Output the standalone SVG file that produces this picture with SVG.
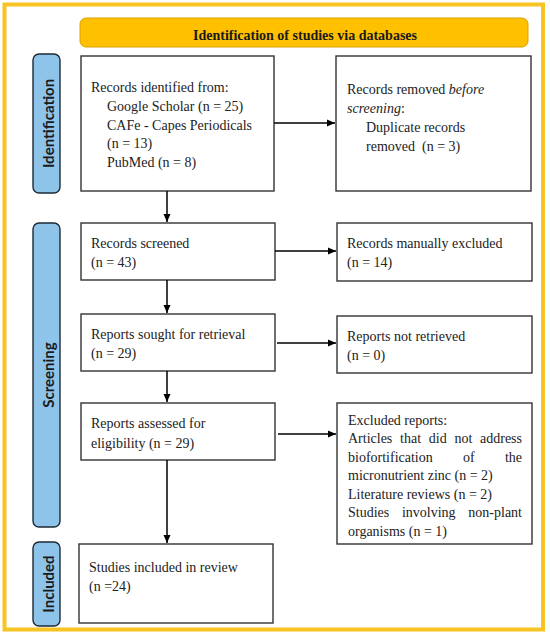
<svg xmlns="http://www.w3.org/2000/svg" width="550" height="634" viewBox="0 0 550 634">
<style>
.box{fill:#fff;stroke:#333;stroke-width:1.4}
.lab{fill:#8ec3ea;stroke:#1e2a36;stroke-width:1.4}
.t{font-family:"Liberation Serif","Times New Roman",serif;font-size:14px;fill:#222}
.side{font-family:Lato,"Liberation Sans",sans-serif;font-weight:bold;font-size:15px;fill:#1a1a1a;text-anchor:middle}
.hd{font-family:"Liberation Serif","Times New Roman",serif;font-size:14px;font-weight:bold;fill:#1a1a1a;text-anchor:middle}
.c{stroke:#000;stroke-width:1.5;fill:none;marker-end:url(#ah)}
</style>
<defs>
<marker id="ah" viewBox="0 0 8 8" refX="8" refY="4" markerWidth="8" markerHeight="8" markerUnits="userSpaceOnUse" orient="auto">
<path d="M0,0.5 L8,4 L0,7.5 Z" fill="#000"/>
</marker>
</defs>
<rect x="4.5" y="4.5" width="538.5" height="625" fill="#fff" stroke="#f7c423" stroke-width="4"/>
<g id="header">
<rect x="80" y="18" width="448" height="29" rx="6" fill="#ffc000" stroke="#d9a200" stroke-width="1"/>
<text class="hd" x="305" y="40">Identification of studies via databases</text>
</g>
<g id="label-identification">
<rect class="lab" x="33" y="54" width="27" height="139" rx="6"/>
<text class="side" transform="translate(53.5,123.5) rotate(-90)">Identification</text>
</g>
<g id="label-screening">
<rect class="lab" x="33" y="223" width="27" height="304" rx="6"/>
<text class="side" transform="translate(53.5,375) rotate(-90)">Screening</text>
</g>
<g id="label-included">
<rect class="lab" x="33" y="542" width="27" height="84" rx="6"/>
<text class="side" transform="translate(53.5,584) rotate(-90)">Included</text>
</g>
<g id="records-identified">
<rect class="box" x="81" y="56" width="193" height="135"/>
<text class="t" x="91" y="92">Records identified from:</text>
<text class="t" x="107" y="111">Google Scholar (n = 25)</text>
<text class="t" x="107" y="129.5">CAFe - Capes Periodicals</text>
<text class="t" x="107" y="148">(n = 13)</text>
<text class="t" x="107" y="167">PubMed (n = 8)</text>
</g>
<g id="records-removed">
<rect class="box" x="336" y="56" width="195" height="135"/>
<text class="t" x="347" y="94">Records removed <tspan font-style="italic">before</tspan></text>
<text class="t" x="347" y="113"><tspan font-style="italic">screening</tspan>:</text>
<text class="t" x="366" y="131.5">Duplicate records</text>
<text class="t" x="366" y="150.5" xml:space="preserve">removed  (n = 3)</text>
</g>
<g id="records-screened">
<rect class="box" x="81" y="223" width="194" height="57"/>
<text class="t" x="91" y="248">Records screened</text>
<text class="t" x="91" y="267">(n = 43)</text>
</g>
<g id="records-excluded">
<rect class="box" x="337" y="223" width="195" height="58"/>
<text class="t" x="347" y="248">Records manually excluded</text>
<text class="t" x="347" y="267">(n = 14)</text>
</g>
<g id="reports-sought">
<rect class="box" x="81" y="314" width="194" height="57"/>
<text class="t" x="91" y="339">Reports sought for retrieval</text>
<text class="t" x="91" y="358">(n = 29)</text>
</g>
<g id="reports-not-retrieved">
<rect class="box" x="337" y="316" width="195" height="57"/>
<text class="t" x="347" y="341">Reports not retrieved</text>
<text class="t" x="347" y="360">(n = 0)</text>
</g>
<g id="reports-assessed">
<rect class="box" x="81" y="403" width="194" height="57"/>
<text class="t" x="91" y="428">Reports assessed for</text>
<text class="t" x="91" y="447.5">eligibility (n = 29)</text>
</g>
<g id="reports-excluded">
<rect class="box" x="337" y="403" width="195" height="141"/>
<text class="t" x="348" y="424.5">Excluded reports:</text>
<text class="t" y="443"><tspan x="348">Articles</tspan><tspan x="400.1">that</tspan><tspan x="428.8">did</tspan><tspan x="454.4">not</tspan><tspan x="522" text-anchor="end">address</tspan></text>
<text class="t" y="461.5"><tspan x="348">biofortification</tspan><tspan x="463">of</tspan><tspan x="522" text-anchor="end">the</tspan></text>
<text class="t" x="348" y="480">micronutrient zinc (n = 2)</text>
<text class="t" x="348" y="498.5">Literature reviews (n = 2)</text>
<text class="t" y="517"><tspan x="348">Studies</tspan><tspan x="401.9">involving</tspan><tspan x="522" text-anchor="end">non-plant</tspan></text>
<text class="t" x="348" y="535.5">organisms (n = 1)</text>
</g>
<g id="studies-included">
<rect class="box" x="79" y="544" width="194" height="79"/>
<text class="t" x="89" y="572">Studies included in review</text>
<text class="t" x="89" y="591">(n =24)</text>
</g>
<g id="connectors">
<line class="c" x1="274" y1="123" x2="335" y2="123"/>
<line class="c" x1="167" y1="191" x2="167" y2="222"/>
<line class="c" x1="275" y1="251" x2="336" y2="251"/>
<line class="c" x1="167" y1="280" x2="167" y2="313"/>
<line class="c" x1="277" y1="343" x2="336" y2="343"/>
<line class="c" x1="167" y1="371" x2="167" y2="402"/>
<line class="c" x1="278" y1="434" x2="336" y2="434"/>
<line class="c" x1="167" y1="460" x2="167" y2="543"/>
</g>
</svg>
